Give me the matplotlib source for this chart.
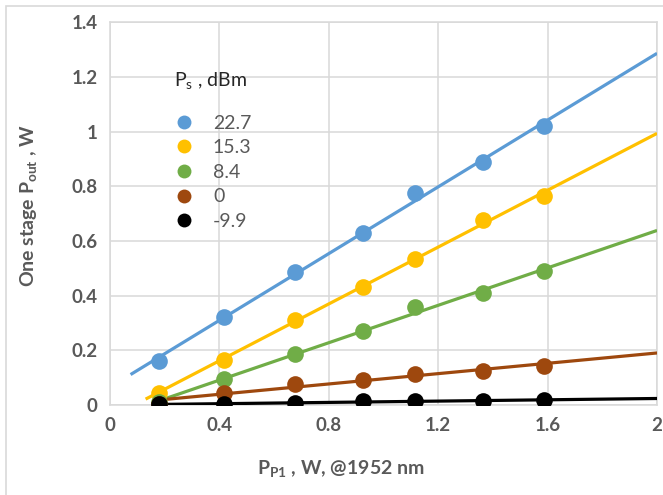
import numpy as np
import matplotlib
matplotlib.use('Agg')
import matplotlib.pyplot as plt
from matplotlib.patches import Rectangle

plt.rcParams['font.family'] = ['Lato', 'DejaVu Sans']
plt.rcParams['mathtext.fontset'] = 'custom'
plt.rcParams['mathtext.rm'] = 'Lato'
plt.rcParams['mathtext.bf'] = 'Lato:bold'

# pump power, W
pump = [0.18, 0.415, 0.675, 0.925, 1.115, 1.365, 1.585]
# output power, W, one list per signal power
p_22_7 = [0.16, 0.32, 0.487, 0.63, 0.775, 0.887, 1.02]
p_15_3 = [0.045, 0.166, 0.31, 0.433, 0.534, 0.676, 0.766]
p_8_4 = [0.01, 0.093, 0.188, 0.27, 0.358, 0.41, 0.49]
p_0 = [0.005, 0.044, 0.075, 0.092, 0.114, 0.125, 0.144]
p_m9_9 = [0.002, 0.002, 0.008, 0.013, 0.015, 0.015, 0.017]

labels = ['22.7', '15.3', '8.4', '0', '-9.9']
series = [p_22_7, p_15_3, p_8_4, p_0, p_m9_9]
colors = ['#5B9BD5', '#FFC000', '#70AD47', '#9E480E', '#000000']
fit_start = [0.075, 0.13, 0.18, 0.18, 0.18]

fig = plt.figure(figsize=(6.63, 4.95), dpi=100)
ax = fig.add_axes([0.166, 0.182, 0.825, 0.773])

handles = []
for ys, c, lab, x0 in zip(series, colors, labels, fit_start):
    k, b = np.polyfit(pump, ys, 1)
    xf = np.array([x0, 2.0])
    ax.plot(xf, k * xf + b, color=c, lw=2.3, solid_capstyle='butt', zorder=3)
    ax.plot(pump, ys, 'o', color=c, ms=12, mec='none', zorder=4)
    h, = ax.plot([], [], 'o', color=c, ms=10, mec='none', label=lab)
    handles.append(h)

ax.set_xlim(0, 2)
ax.set_ylim(0, 1.4)
ax.set_xticks(np.arange(0, 2.01, 0.4))
ax.set_yticks(np.arange(0, 1.41, 0.2))
ax.set_xticklabels(['%g' % round(v, 1) for v in np.arange(0, 2.01, 0.4)])
ax.set_yticklabels(['%g' % round(v, 1) for v in np.arange(0, 1.41, 0.2)])
ax.tick_params(length=0, labelsize=13.5, labelcolor='#595959', pad=9)
for t in ax.get_xticklabels() + ax.get_yticklabels():
    t.set_fontweight('bold')
ax.grid(color='#d9d9d9', lw=1.1)
ax.set_axisbelow(True)
for s in ax.spines.values():
    s.set_color('#d9d9d9')
    s.set_linewidth(1.1)

ax.set_xlabel(r'$\mathbf{P_{P1}}$ , W, @1952 nm', fontsize=14, fontweight='bold', color='#595959')
ax.xaxis.set_label_coords(0.422, -0.14)
ax.set_ylabel(r'One stage $\mathbf{P_{out}}$ , W', fontsize=14, fontweight='bold', color='#595959')
ax.yaxis.set_label_coords(-0.13, 0.52)

leg = ax.legend(handles=handles, title=r'P$_{\mathrm{s}}$ , dBm', loc='upper left',
                bbox_to_anchor=(0.085, 0.918), frameon=False, fontsize=14,
                labelspacing=0.39, handlelength=1.0, handletextpad=1.0,
                alignment='left', title_fontsize=14)
for t in leg.get_texts():
    t.set_color('#595959')
leg.get_title().set_color('#262626')
leg._legend_box.sep = 16

fig.patches.append(Rectangle((6 / 663, -0.05), 1.1, 1.05 - 6 / 495, transform=fig.transFigure,
                             fill=False, edgecolor='#d9d9d9', lw=1.2))

fig.savefig('out.png', dpi=100)
